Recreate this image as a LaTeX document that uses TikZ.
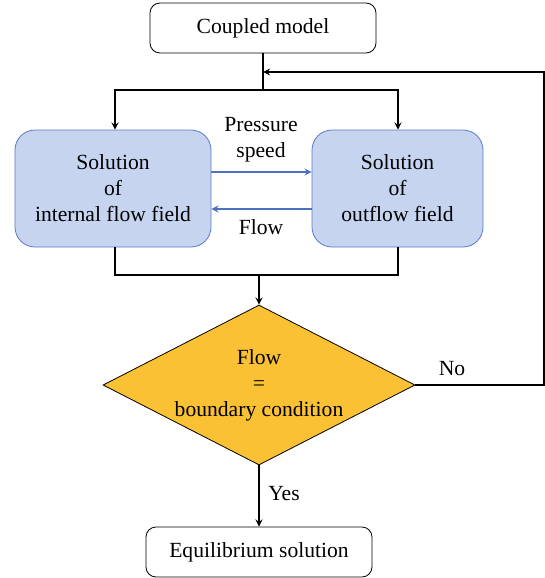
\documentclass[tikz,border=0pt]{standalone}
\usepackage{fontspec}
\setmainfont{Liberation Serif}
\usetikzlibrary{shapes.geometric}
\definecolor{boxblue}{RGB}{198,212,240}
\definecolor{edgeblue}{RGB}{92,122,200}
\definecolor{arrblue}{RGB}{78,112,192}
\definecolor{gold}{RGB}{250,193,52}
\tikzset{
 endbox/.style={draw,rounded corners=5pt,minimum width=113pt,minimum height=25pt,inner sep=0pt},
 solbox/.style={draw=edgeblue,fill=boxblue,rounded corners=10pt,minimum height=58.5pt,align=center,inner sep=0pt},
 check/.style={diamond,draw,fill=gold,minimum width=156pt,minimum height=80pt,inner sep=0pt},
 link/.style={->,line width=0.6pt},
 bluelink/.style={->,line width=0.6pt,arrblue}
}
\begin{document}
\begin{tikzpicture}[>=stealth,x=0.5pt,y=-0.5pt,font=\fontsize{10.8}{13}\selectfont]
 \useasboundingbox (0,0) rectangle (545,578);
 % boxes
 \node[endbox] (cm) at (263,28) {Coupled model};
 \node[solbox,minimum width=98pt] (inn) at (113,188.5) {Solution\\of\\internal flow field};
 \node[solbox,minimum width=85.5pt] (out) at (397.5,188.5) {Solution\\of\\outflow field};
 \node[check] (dec) at (259,385) {};
 \node[align=center] (cond) at (dec.center) {Flow\\=\\boundary condition};
 \node[endbox] (eq) at (259,552) {Equilibrium solution};
 % helper points
 \coordinate (fb) at (263,72);
 \coordinate (split) at (263,90);
 \coordinate (merge) at (259,275);
 \coordinate (loop) at (544,385);
 % top branch
 \draw[line width=0.6pt] (cm.south) -- (split);
 \draw[link] (split) -| (inn.north -| 115,0);
 \draw[link] (split) -| (out.north -| 398,0);
 % data exchange
 \draw[bluelink] (inn.east |- 0,172) -- (out.west |- 0,172);
 \draw[bluelink] (out.west |- 0,209) -- (inn.east |- 0,209);
 \node[align=center] (ps) at (261,140) {Pressure\\speed};
 \node (fl) at (261,227) {Flow};
 % merge into the check
 \draw[line width=0.6pt] (inn.south -| 115,0) |- (merge);
 \draw[line width=0.6pt] (out.south -| 398,0) |- (merge);
 \draw[link] (merge) -- (dec.north);
 % loop back
 \draw[link] (dec.east) -- (loop) |- (fb);
 \node (no) at (452,369) {No};
 \draw[link] (dec.south) -- (eq.north);
 \node (yes) at (284,494) {Yes};
\end{tikzpicture}
\end{document}
